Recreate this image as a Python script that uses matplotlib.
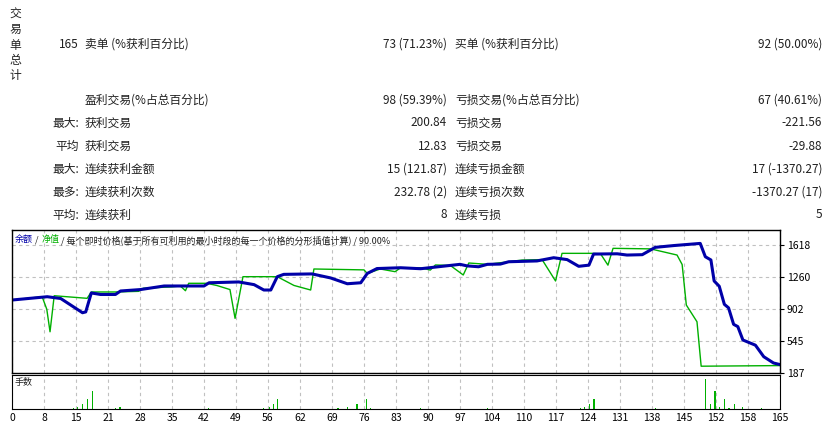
import matplotlib
matplotlib.use("Agg")
import matplotlib.pyplot as plt
import numpy as np

plt.rcParams['font.family'] = ['Noto Sans CJK SC', 'DejaVu Sans']

bal_x = [0, 7.6, 10.5, 15.2, 15.9, 17.1, 19.1, 22.3, 23.4, 27.7, 32.8, 41.4, 42.5, 48.9, 52.2, 54.3, 55.8,
         57.2, 58.6, 64.7, 68.7, 72.3, 75.2, 76.6, 78.7, 83.8, 88.1, 96.6, 98.1, 100.6, 102.5, 105.3, 107.1,
         113.2, 116.8, 119.7, 122.2, 124.4, 125.4, 130.5, 132.6, 135.9, 138.7, 142.7, 148.4, 149.5, 150.7,
         151.4, 152.5, 153.6, 154.5, 155.6, 156.5, 157.6, 160.3, 162.1, 164.2, 165.6]
bal_y = [1003, 1040, 1020, 861, 870, 1082, 1065, 1065, 1104, 1120, 1160, 1160, 1196, 1205, 1175, 1115, 1115,
         1264, 1290, 1295, 1250, 1185, 1196, 1300, 1355, 1364, 1353, 1402, 1385, 1375, 1402, 1405, 1431,
         1440, 1476, 1455, 1380, 1393, 1517, 1520, 1506, 1510, 1592, 1612, 1636, 1487, 1451,
         1216, 1157, 955, 916, 731, 706, 556, 498, 369, 299, 281]

eq_x = [0, 6.5, 7.5, 8.2, 9.1, 16.2, 17.1, 22.3, 27.3, 28.3, 34.5, 36.3, 37.4, 38.1, 42.0, 44.2, 47.0, 48.1,
        49.8, 57.2, 60.8, 64.4, 65.1, 75.9, 76.6, 79.4, 82.6, 83.8, 88.1, 90.2, 91.3, 94.5, 97.3, 98.5,
        102.5, 110.0, 114.3, 117.2, 118.6, 125.1, 126.9, 128.5, 129.6, 137.7, 143.4, 144.5, 145.4, 147.7,
        148.6, 165.6]
eq_y = [1003, 1040, 900, 648, 1051, 1022, 1093, 1093, 1100, 1135, 1150, 1160, 1107, 1190, 1190, 1165, 1120, 798,
        1264, 1264, 1166, 1115, 1350, 1340, 1300, 1350, 1320, 1364, 1364, 1338, 1395, 1390, 1283, 1417,
        1402, 1450, 1455, 1216, 1525, 1525, 1520, 1393, 1581, 1575, 1506, 1400, 947, 760,
        263, 270]

lot_x = [13.2, 14.2, 15.2, 16.2, 17.3, 22.3, 23.3, 42.3, 54.3, 55.4, 56.3, 57.3, 70.3, 72.4, 74.4, 76.4, 77.3,
         88.1, 102.5, 122.6, 123.5, 124.6, 125.5, 138.7, 149.6, 150.7, 151.6, 152.6, 153.6, 154.6, 155.7,
         157.6, 161.7]
lot_y = [0.01, 0.02, 0.05, 0.09, 0.17, 0.01, 0.02, 0.01, 0.01, 0.02, 0.05, 0.09, 0.01, 0.02, 0.05, 0.09, 0.01,
         0.01, 0.01, 0.01, 0.02, 0.05, 0.09, 0.01, 0.28, 0.05, 0.17, 0.02, 0.09, 0.01, 0.05, 0.02, 0.01]

xtick_labels = ['0', '8', '15', '21', '28', '35', '42', '49', '56', '62', '69', '76', '83', '90', '97', '104',
                '110', '117', '124', '131', '138', '145', '152', '158', '165']
yticks = [187, 545, 902, 1260, 1618]

rows = [
    ("165", "卖单 (%获利百分比)", "73 (71.23%)", "买单 (%获利百分比)", "92 (50.00%)", 44),
    ("", "盈利交易(%占总百分比)", "98 (59.39%)", "亏损交易(%占总百分比)", "67 (40.61%)", 100),
    ("最大:", "获利交易", "200.84", "亏损交易", "-221.56", 123),
    ("平均", "获利交易", "12.83", "亏损交易", "-29.88", 146),
    ("最大:", "连续获利金额", "15 (121.87)", "连续亏损金额", "17 (-1370.27)", 169),
    ("最多:", "连续获利次数", "232.78 (2)", "连续亏损次数", "-1370.27 (17)", 192),
    ("平均:", "连续获利", "8", "连续亏损", "5", 215),
]

W, H = 831, 426
fig = plt.figure(figsize=(W / 100, H / 100), dpi=100)
fs = 8.5
def T(x, y, s, ha='left', **kw):
    fig.text(x / W, 1 - y / H, s, ha=ha, va='center', fontsize=fs, color='#202020', **kw)

for i, ch in enumerate("交易单总计"):
    T(15, 14 + i * 15.5, ch, ha='center')
for a, b, c, d, e, y in rows:
    T(79, y, a, ha='right'); T(85, y, b); T(447, y, c, ha='right'); T(455, y, d); T(822, y, e, ha='right')

gx = np.arange(25) * 6.9
ax = fig.add_axes([12 / W, (H - 373) / H, 768 / W, 143 / H])
ax.plot(eq_x, eq_y, color='#00b000', lw=1.0)
ax.plot(bal_x, bal_y, color='#0000a8', lw=2.2)
ax.set_xlim(0, 165.6)
ax.set_ylim(187, 1786)
ax.set_xticks(gx)
ax.set_xticklabels([])
ax.set_yticks(yticks)
ax.yaxis.tick_right()
ax.tick_params(axis='y', labelsize=7.5, length=3, pad=2)
ax.tick_params(axis='x', length=0)
ax.grid(True, color='#c0c0c0', ls=(0, (3, 3)), lw=0.8)
for s in ax.spines.values():
    s.set_linewidth(1.0)
ax.text(0.003, 0.965, "余额", transform=ax.transAxes, fontsize=6.5, color='#0000a8', va='top')
ax.text(0.030, 0.965, "/", transform=ax.transAxes, fontsize=6.5, color='#202020', va='top')
ax.text(0.038, 0.965, "净值", transform=ax.transAxes, fontsize=6.5, color='#00b000', va='top')
ax.text(0.064, 0.965, "/ 每个即时价格(基于所有可利用的最小时段的每一个价格的分形插值计算) / 90.00%",
        transform=ax.transAxes, fontsize=6.5, color='#202020', va='top')

ax2 = fig.add_axes([12 / W, (H - 409) / H, 768 / W, 34 / H])
ax2.bar(lot_x, lot_y, width=0.25, color='#00b000')
ax2.set_xlim(0, 165.6)
ax2.set_ylim(0, 0.32)
ax2.set_xticks(gx)
ax2.set_xticklabels(xtick_labels)
ax2.set_yticks([])
ax2.tick_params(axis='x', labelsize=7.5, length=0, pad=3)
ax2.grid(True, axis='x', color='#c0c0c0', ls=(0, (3, 3)), lw=0.8)
ax2.text(0.003, 0.9, "手数", transform=ax2.transAxes, fontsize=6.5, color='#202020', va='top')

fig.savefig("out.png", dpi=100)
